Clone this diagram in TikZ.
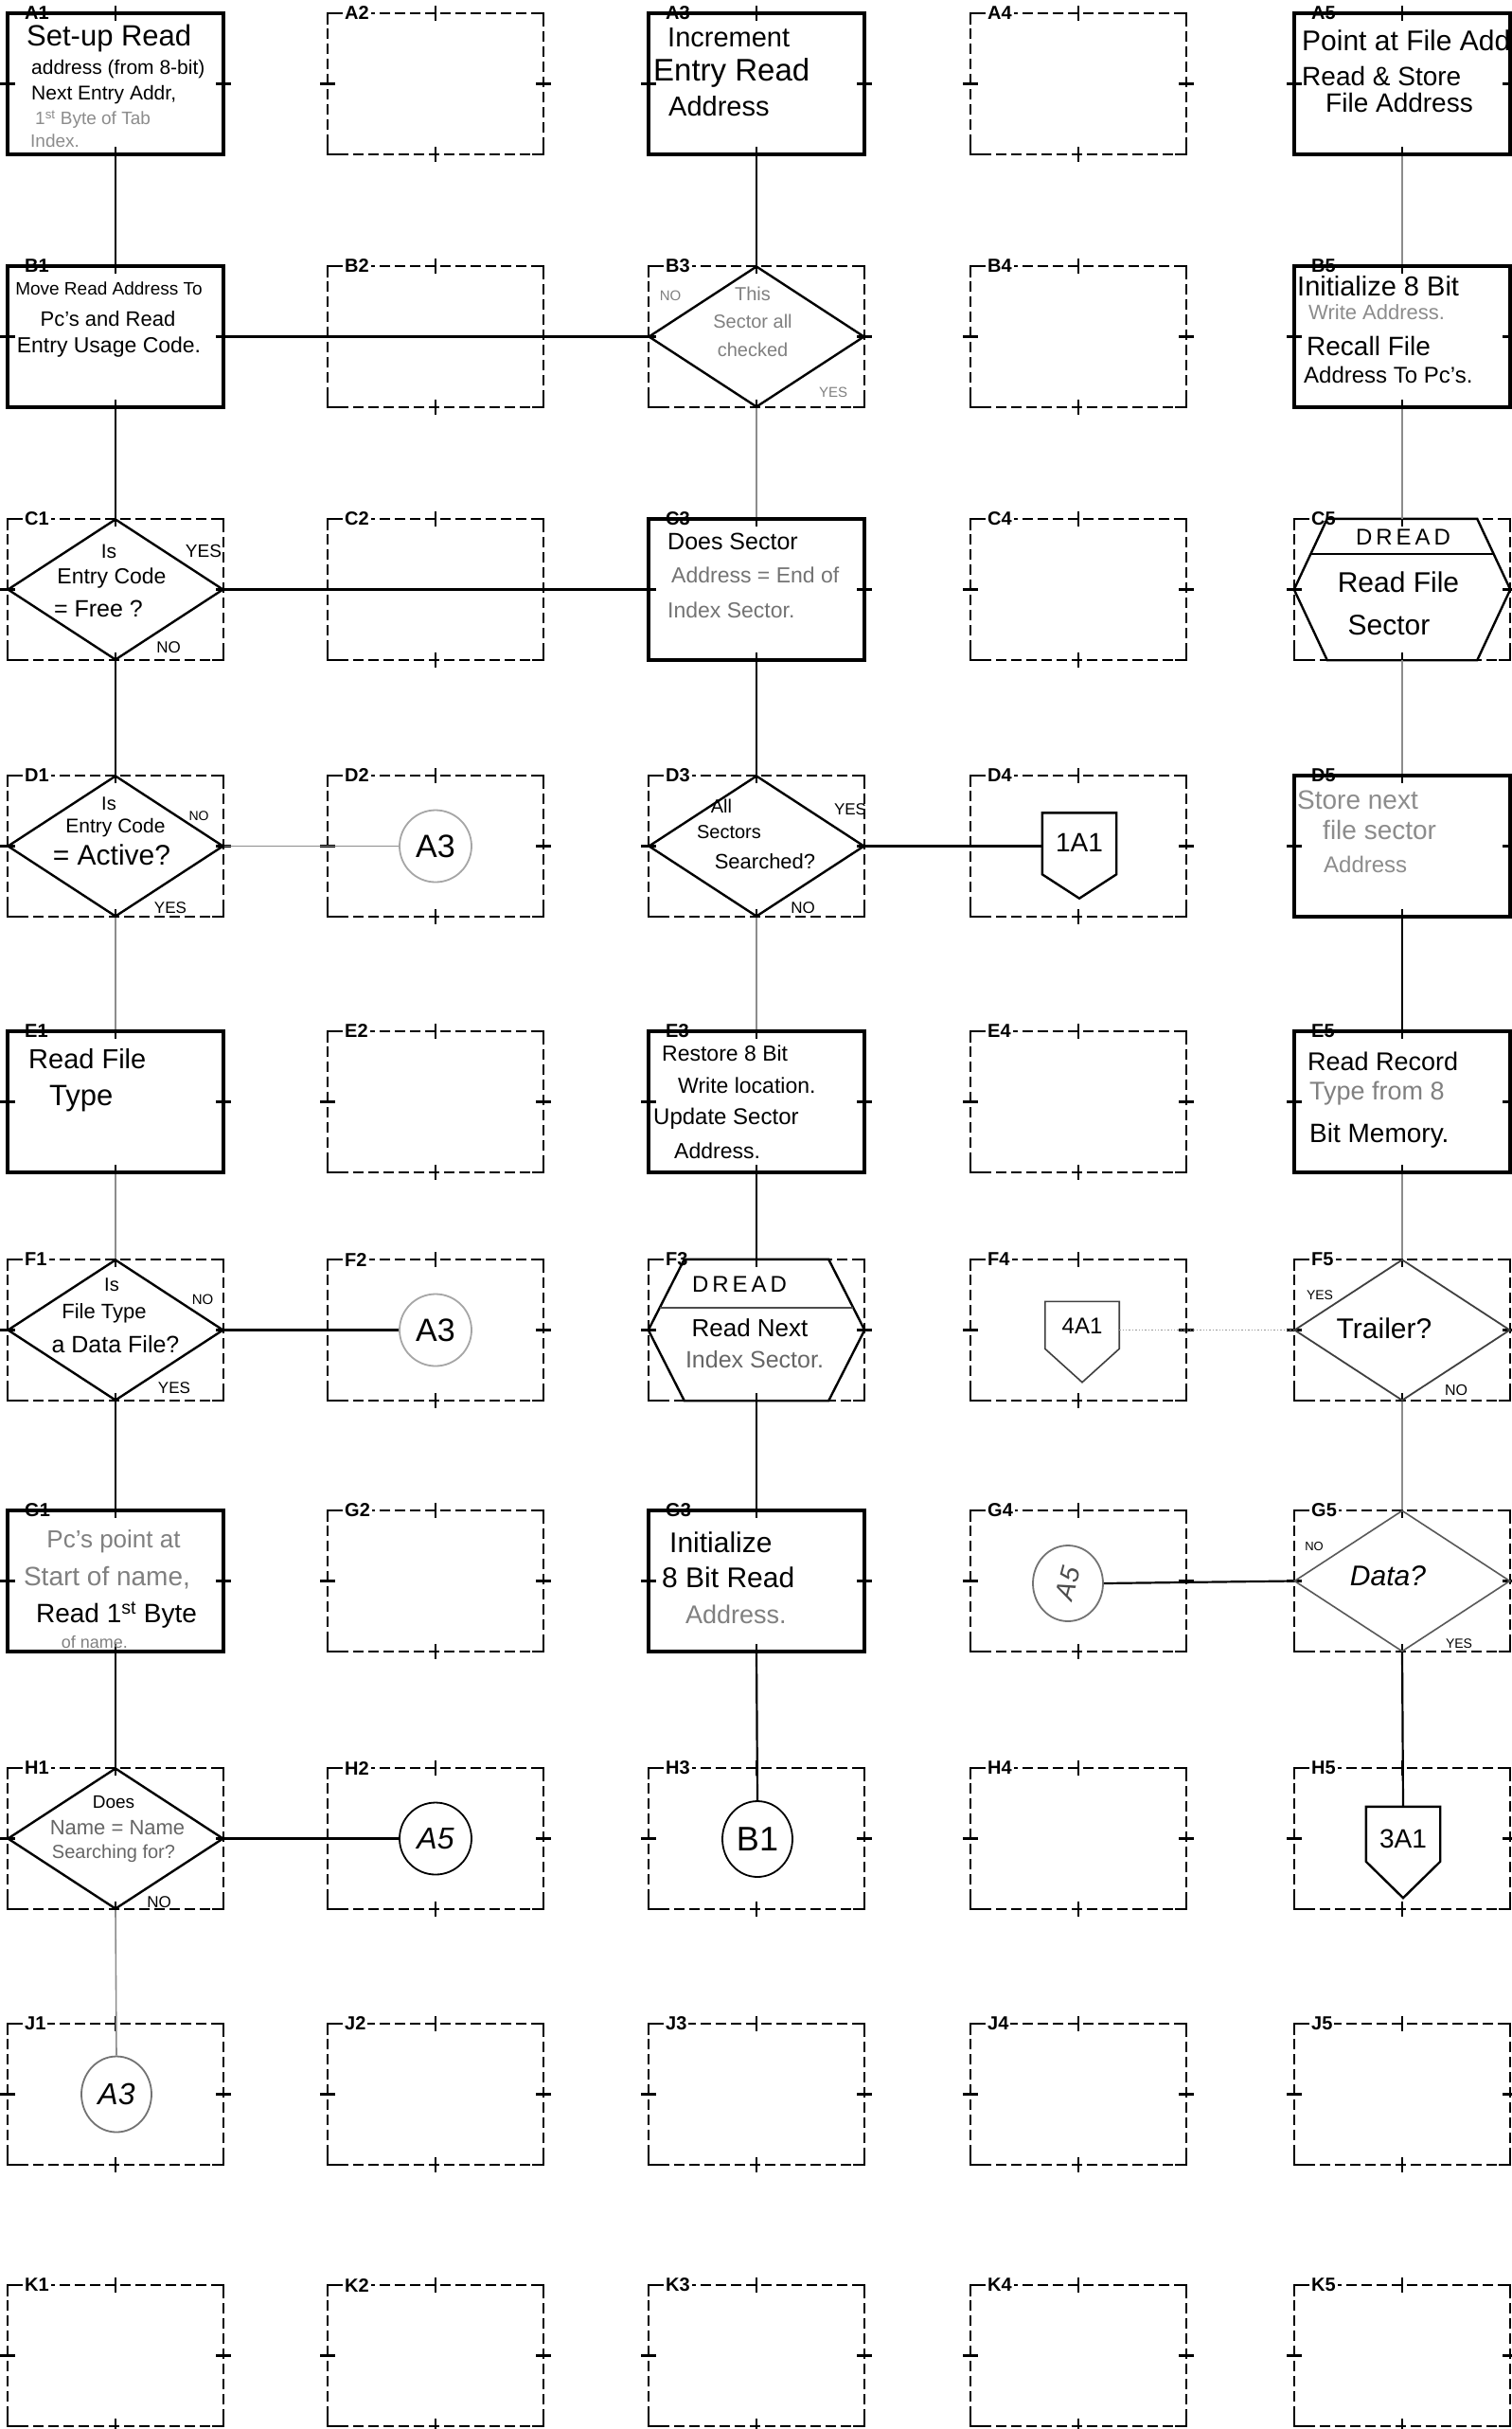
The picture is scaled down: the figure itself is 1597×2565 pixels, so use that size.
\documentclass[tikz,border=0pt]{standalone}
\usepackage{fontspec}
\setmainfont{Liberation Sans}
\usetikzlibrary{shapes.geometric,calc}
\newcounter{hlc}
\newcommand\hwline[5][]{\stepcounter{hlc}\node[hwtext,#1] (hw\arabic{hlc}) at (#2,#3) {\fontsize{#4}{#4}\selectfont #5};}
\begin{document}
\begin{tikzpicture}[x=1pt,y=-1pt,
  cellline/.style={line width=2.2pt,dash pattern=on 11pt off 5pt},
  cornerl/.style={line width=2.2pt},
  tickl/.style={line width=2.2pt},
  lbl/.style={font=\bfseries\fontsize{20}{20}\selectfont,fill=white,inner sep=2pt,anchor=west},
  proc/.style={draw,line width=3.4pt,minimum width=228pt,minimum height=149pt,inner sep=0pt},
  dec/.style={diamond,draw,line width=2.4pt,minimum width=228pt,minimum height=149pt,inner sep=0pt},
  hexframe/.style={minimum width=228pt,minimum height=149pt,inner sep=0pt},
  pentnode/.style={minimum width=78pt,inner sep=0pt},
  shp/.style={line width=2.4pt},
  conn/.style={line width=2.2pt},
  faint/.style={line width=1.6pt,black!45},
  conc/.style={circle,draw,minimum size=76pt,inner sep=0pt,line width=1.8pt},
  ovl/.style={ellipse,draw,minimum width=74pt,minimum height=80pt,inner sep=0pt,line width=1.8pt},
  hwtext/.style={inner sep=0pt},
]
\useasboundingbox (0,0) rectangle (1597,2565);
\clip (0,0) rectangle (1597,2565);
\fill[white] (0,0) rectangle (1597,2565);

% ---------- grid of dashed cells ----------
\foreach \rowN/\rowT in {A/14,B/281,C/548,D/819,E/1089,F/1330,G/1595,H/1867,J/2137,K/2413}{
  \foreach \colN/\colL in {1/8,2/346,3/685,4/1025,5/1367}{
    \draw[cellline] (\colL,\rowT) rectangle (\colL+228,\rowT+149);
    \draw[cornerl] (\colL,\rowT+12) -- (\colL,\rowT) -- (\colL+12,\rowT);
    \draw[cornerl] (\colL+216,\rowT) -- (\colL+228,\rowT) -- (\colL+228,\rowT+12);
    \draw[cornerl] (\colL,\rowT+137) -- (\colL,\rowT+149) -- (\colL+12,\rowT+149);
    \draw[cornerl] (\colL+216,\rowT+149) -- (\colL+228,\rowT+149) -- (\colL+228,\rowT+137);
    \draw[tickl] (\colL+114,\rowT-8) -- (\colL+114,\rowT+8);
    \draw[tickl] (\colL+114,\rowT+141) -- (\colL+114,\rowT+157);
    \draw[tickl] (\colL-8,\rowT+74.5) -- (\colL+8,\rowT+74.5);
    \draw[tickl] (\colL+220,\rowT+74.5) -- (\colL+236,\rowT+74.5);
    \node[lbl] (lbl\rowN\colN) at (\colL+16,\rowT) {\rowN\colN};
  }
}

% ---------- process boxes ----------
\node[proc] (pA1) at (122,88.5) {};
\node[proc] (pA3) at (799,88.5) {};
\node[proc] (pA5) at (1481,88.5) {};
\node[proc] (pB1) at (122,355.5) {};
\node[proc] (pB5) at (1481,355.5) {};
\node[proc] (pC3) at (799,622.5) {};
\node[proc] (pD5) at (1481,893.5) {};
\node[proc] (pE1) at (122,1163.5) {};
\node[proc] (pE3) at (799,1163.5) {};
\node[proc] (pE5) at (1481,1163.5) {};
\node[proc] (pG1) at (122,1669.5) {};
\node[proc] (pG3) at (799,1669.5) {};

% ---------- decisions ----------
\node[dec] (dB3) at (799,355.5) {};
\node[dec] (dC1) at (122,622.5) {};
\node[dec] (dD1) at (122,893.5) {};
\node[dec] (dD3) at (799,893.5) {};
\node[dec] (dF1) at (122,1404.5) {};
\node[dec,line width=1.8pt,draw=black!75] (dF5) at (1481,1404.5) {};
\node[dec,line width=1.6pt,draw=black!65] (dG5) at (1481,1669.5) {};
\node[dec] (dH1) at (122,1941.5) {};

% ---------- DREAD hexagons ----------
\node[hexframe] (hC5) at (1481,622.5) {};
\draw[shp] ($(hC5.north west)+(35,0)$) -- ($(hC5.north east)+(-35,0)$) -- (hC5.east)
  -- ($(hC5.south east)+(-35,0)$) -- ($(hC5.south west)+(35,0)$) -- (hC5.west) -- cycle;
\draw[shp] ($(hC5.north west)+(17.6,37)$) -- ($(hC5.north east)+(-17.6,37)$);
\node[hexframe] (hF3) at (799,1404.5) {};
\draw[shp] ($(hF3.north west)+(38,0)$) -- ($(hF3.north east)+(-38,0)$) -- (hF3.east)
  -- ($(hF3.south east)+(-38,0)$) -- ($(hF3.south west)+(38,0)$) -- (hF3.west) -- cycle;
\draw[line width=1.4pt,black!70] ($(hF3.north west)+(12,51)$) -- ($(hF3.north east)+(-12,51)$);

% ---------- off-page connectors ----------
\node[pentnode,minimum height=90pt] (pD4) at (1140,903.5) {};
\draw[shp] (pD4.north west) -- (pD4.north east) -- ($(pD4.north east)+(0,65)$) -- (pD4.south)
  -- ($(pD4.north west)+(0,65)$) -- cycle;
\node[pentnode,minimum height=85pt] (pF4) at (1143,1417) {};
\draw[line width=1.6pt,black!75] (pF4.north west) -- (pF4.north east) -- ($(pF4.north east)+(0,50)$) -- (pF4.south)
  -- ($(pF4.north west)+(0,50)$) -- cycle;
\node[pentnode,minimum height=96pt] (pH5) at (1482,1956) {};
\draw[shp] (pH5.north west) -- (pH5.north east) -- ($(pH5.north east)+(0,58)$) -- (pH5.south)
  -- ($(pH5.north west)+(0,58)$) -- cycle;

% ---------- on-page connectors (circles) ----------
\node[conc,draw=black!35] (cD2) at (460,893.5) {\fontsize{34}{34}\selectfont A3};
\node[conc,draw=black!35] (cF2) at (460,1404.5) {\fontsize{34}{34}\selectfont A3};
\node[conc] (cH2) at (460,1941.5) {\fontsize{32}{32}\selectfont\itshape A5};
\node[ovl,draw=black!55] (cG4) at (1128,1672) {\rotatebox{75}{\fontsize{28}{28}\selectfont\itshape\color{black!70}A5}};
\node[ovl] (cH3) at (800,1942) {\fontsize{36}{36}\selectfont B1};
\node[ovl,draw=black!55] (cJ1) at (123,2211.5) {\fontsize{32}{32}\selectfont\itshape A3};

% ---------- connectors ----------
\draw[conn] (pA1.south) -- (pB1.north);
\draw[conn,line width=3pt] (pB1.east) -- (dB3.west);
\draw[conn] (pB1.south) -- (dC1.north);
\draw[conn,line width=3pt] (dC1.east) -- (pC3.west);
\draw[conn] (dC1.south) -- (dD1.north);
\draw[faint] (dD1.east) -- (cD2.west);
\draw[faint] (dD1.south) -- (pE1.north);
\draw[faint] (pE1.south) -- (dF1.north);
\draw[conn] (dF1.east) -- (cF2.west);
\draw[conn] (dF1.south) -- (pG1.north);
\draw[conn] (pG1.south) -- (dH1.north);
\draw[conn,line width=3pt] (dH1.east) -- (cH2.west);
\draw[faint] (dH1.south) -- (cJ1.north);
\draw[conn] (pA3.south) -- (dB3.north);
\draw[faint] (dB3.south) -- (pC3.north);
\draw[conn] (pC3.south) -- (dD3.north);
\draw[conn,line width=3pt] (dD3.east) -- (dD3.east -| pD4.west);
\draw[faint] (dD3.south) -- (pE3.north);
\draw[conn] (pE3.south) -- (hF3.north);
\draw[conn] (hF3.south) -- (pG3.north);
\draw[conn] (pG3.south) -- (cH3.north);
\draw[faint] (pA5.south) -- (pB5.north);
\draw[faint] (pB5.south) -- (hC5.north);
\draw[faint] (hC5.south) -- (pD5.north);
\draw[conn] (pD5.south) -- (pE5.north);
\draw[faint] (pE5.south) -- (dF5.north);
\draw[line width=1.4pt,black!40,dotted] (dF5.west -| pF4.east) -- (dF5.west);
\draw[faint] (dF5.south) -- (dG5.north);
\draw[conn] (cG4.east) -- (dG5.west);
\draw[conn] (dG5.south) -- (pH5.north);

% ---------- handwritten texts ----------
% A1
\hwline[anchor=west]{28}{40}{31}{Set-up Read}
\hwline[anchor=west]{33}{73}{21}{address (from 8-bit)}
\hwline[anchor=west]{33}{100}{21}{Next Entry Addr,}
\hwline[anchor=west,text=black!45]{37}{126}{19}{1\textsuperscript{st} Byte of Tab}
\hwline[anchor=west,text=black!45]{32}{149}{19}{Index.}
% A3
\hwline[anchor=west]{705}{40}{29}{Increment}
\hwline[anchor=west]{690}{77}{33}{Entry Read}
\hwline[anchor=west]{706}{112}{29}{Address}
% A5
\hwline[anchor=west]{1375}{43}{30}{Point at File Add}
\hwline[anchor=west]{1375}{80}{28}{Read \& Store}
\hwline[anchor=west]{1400}{108}{28}{File Address}
% B1
\hwline{115}{305}{19}{Move Read Address To}
\hwline{114}{337}{22}{Pc's and Read}
\hwline{115}{367}{23}{Entry Usage Code.}
% B3
\hwline[text=black!50]{795}{310}{20}{This}
\hwline[text=black!50]{795}{339}{20}{Sector all}
\hwline[text=black!50]{795}{369}{20}{checked}
\hwline[text=black!50]{708}{312}{15}{NO}
\hwline[text=black!50]{880}{414}{15}{YES}
% B5
\hwline[anchor=west]{1370}{302}{29}{Initialize 8 Bit}
\hwline[anchor=west,text=black!45]{1382}{330}{22}{Write Address.}
\hwline[anchor=west]{1380}{365}{28}{Recall File}
\hwline[anchor=west]{1377}{396}{24}{Address To Pc's.}
% C1
\hwline{115}{582}{21}{Is}
\hwline{118}{611}{23}{Entry Code}
\hwline{104}{643}{25}{= Free ?}
\hwline{215}{582}{19}{YES}
\hwline{178}{684}{17}{NO}
% C3
\hwline[anchor=west]{705}{572}{25}{Does Sector}
\hwline[anchor=west,text=black!55]{709}{607}{23}{Address = End of}
\hwline[anchor=west,text=black!55]{705}{644}{23}{Index Sector.}
% C5
\hwline{1482}{567}{24}{D\,R\,E\,A\,D}
\hwline{1477}{615}{30}{Read File}
\hwline{1467}{660}{30}{Sector}
% D1
\hwline{115}{849}{20}{Is}
\hwline{122}{874}{21}{Entry Code}
\hwline{118}{903}{30}{= Active?}
\hwline{210}{862}{14}{NO}
\hwline{180}{959}{17}{YES}
% D3
\hwline{762}{851}{20}{All}
\hwline{770}{879}{20}{Sectors}
\hwline{808}{910}{22}{Searched?}
\hwline{898}{855}{17}{YES}
\hwline{848}{959}{17}{NO}
% D4
\hwline{1140}{890}{28}{1A1}
% D5
\hwline[anchor=west,text=black!45]{1370}{845}{28}{Store next}
\hwline[anchor=west,text=black!45]{1397}{876}{28}{file sector}
\hwline[anchor=west,text=black!45]{1398}{913}{24}{Address}
% E1
\hwline[anchor=west]{30}{1118}{29}{Read File}
\hwline[anchor=west]{52}{1160}{31}{Type}
% E3
\hwline[anchor=west]{699}{1112}{23}{Restore 8 Bit}
\hwline[anchor=west]{716}{1146}{23}{Write location.}
\hwline[anchor=west]{690}{1181}{24}{Update Sector}
\hwline[anchor=west]{712}{1215}{23}{Address.}
% E5
\hwline[anchor=west]{1381}{1121}{27}{Read Record}
\hwline[anchor=west,text=black!50]{1383}{1155}{27}{Type from 8}
\hwline[anchor=west]{1383}{1199}{28}{Bit Memory.}
% F1
\hwline{118}{1357}{20}{Is}
\hwline{110}{1387}{22}{File Type}
\hwline{122}{1420}{25}{a Data File?}
\hwline{214}{1372}{15}{NO}
\hwline{184}{1466}{17}{YES}
% F3
\hwline{781}{1356}{24}{D\,R\,E\,A\,D}
\hwline{792}{1402}{26}{Read Next}
\hwline[text=black!60]{797}{1436}{25}{Index Sector.}
% F4
\hwline{1143}{1400}{24}{4A1}
% F5
\hwline{1462}{1403}{30}{Trailer?}
\hwline{1394}{1368}{14}{YES}
\hwline{1538}{1468}{16}{NO}
% G1
\hwline[text=black!50]{120}{1628}{26}{Pc's point at}
\hwline[text=black!50]{113}{1666}{28}{Start of name,}
\hwline{123}{1706}{28}{Read 1\textsuperscript{st} Byte}
\hwline[text=black!50]{100}{1734}{18}{of name.}
% G3
\hwline[anchor=west]{707}{1629}{30}{Initialize}
\hwline[anchor=west]{699}{1666}{30}{8 Bit Read}
\hwline[anchor=west,text=black!50]{724}{1705}{27}{Address.}
% G5
\hwline{1466}{1664}{30}{\itshape Data?}
\hwline{1388}{1633}{13}{NO}
\hwline{1541}{1736}{14}{YES}
% H1
\hwline{120}{1903}{19}{Does}
\hwline[text=black!60]{124}{1930}{22}{Name = Name}
\hwline[text=black!60]{120}{1957}{20}{Searching for?}
\hwline{168}{2009}{17}{NO}
% H5
\hwline{1482}{1942}{28}{3A1}
\end{tikzpicture}
\end{document}
